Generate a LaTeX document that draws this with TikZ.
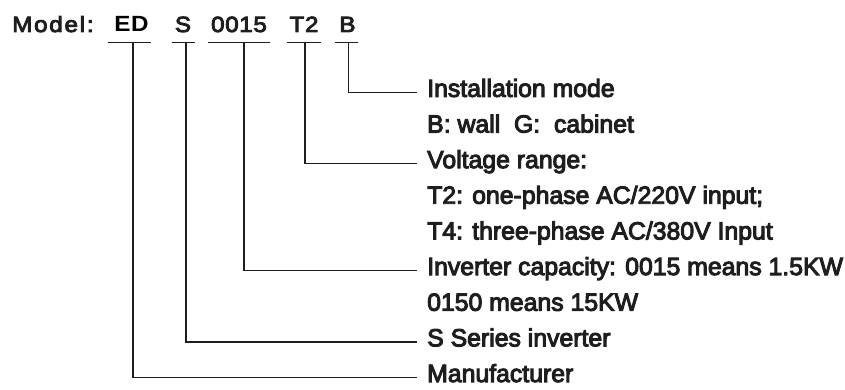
\documentclass[tikz,border=0pt]{standalone}
\usepackage{fontspec}
\setmainfont{Liberation Sans}
\newfontfamily\bodyfont[FakeBold=4]{Liberation Sans}
\newfontfamily\headfont[FakeBold=4,FakeStretch=1.1,LetterSpace=3]{Liberation Sans}
\newfontfamily\modelfont[FakeBold=4,FakeStretch=1.1,LetterSpace=8]{Liberation Sans}
\newfontfamily\headbold[FakeStretch=1.1,LetterSpace=3]{Liberation Sans Bold}
\definecolor{ink}{HTML}{1E1E1E}
\tikzset{
  desc/.style={anchor=west,inner xsep=0pt,inner ysep=0pt,text height=8.7pt,text depth=-8.7pt,
    font=\bodyfont\fontsize{24.8}{25}\selectfont,text=ink},
  code/.style={anchor=base,inner sep=0pt,font=\headfont\fontsize{22}{23}\selectfont,text=ink},
  uline/.style={draw=ink,line width=1.3pt},
  conn/.style={draw=ink,line width=1.1pt}
}
\begin{document}
\begin{tikzpicture}[x=1pt,y=-1pt]
\useasboundingbox (0,0) rectangle (845,390);
% header
\node[code,anchor=base west,font=\modelfont\fontsize{22}{23}\selectfont] (model) at (12,32) {Model:};
\node[code,font=\headbold\fontsize{22}{23}\selectfont,text=black] (ed) at (131.5,32) {ED};
\node[code] (s) at (183,32) {S};
\node[code] (cap) at (239,32) {0015};
\node[code] (t2) at (304,32) {T2};
\node[code] (b) at (347.5,32) {B};
% underlines
\draw[uline] (108,42.5) -- (151,42.5);
\draw[uline] (172,42.5) -- (195,42.5);
\draw[uline] (208,42.5) -- (270,42.5);
\draw[uline] (287,42.5) -- (321,42.5);
\draw[uline] (335,42.5) -- (358,42.5);
\coordinate (edV) at (133,42.5);
\coordinate (sV) at (186,42.5);
\coordinate (capV) at (244,42.5);
\coordinate (t2V) at (305,42.5);
\coordinate (bV) at (348.5,42.5);
% descriptions
\def\lx{427}
\node[desc] (inst) at (\lx,92.5) {Installation mode};
\node[desc] (instb) at (\lx,128.2) {B: wall\ \ G:\ \ cabinet};
\node[desc] (volt) at (\lx,163.8) {Voltage range:};
\node[desc] (volt2) at (\lx,199.4) {T2: one-phase AC/220V input;};
\node[desc] (volt4) at (\lx,235.1) {T4: three-phase AC/380V Input};
\node[desc] (inv) at (\lx,270.7) {Inverter capacity: 0015 means 1.5KW};
\node[desc] (inv2) at (\lx,306.4) {0150 means 15KW};
\node[desc] (ser) at (\lx,342) {S Series inverter};
\node[desc] (man) at (\lx,377.7) {Manufacturer};
% connectors
\draw[conn] (bV) |- ([xshift=-10pt]inst.west);
\draw[conn] (t2V) |- ([xshift=-10pt]volt.west);
\draw[conn] (capV) |- ([xshift=-10pt]inv.west);
\draw[conn] (sV) |- ([xshift=-10pt]ser.west);
\draw[conn] (edV) |- ([xshift=-10pt]man.west);
\end{tikzpicture}
\end{document}
